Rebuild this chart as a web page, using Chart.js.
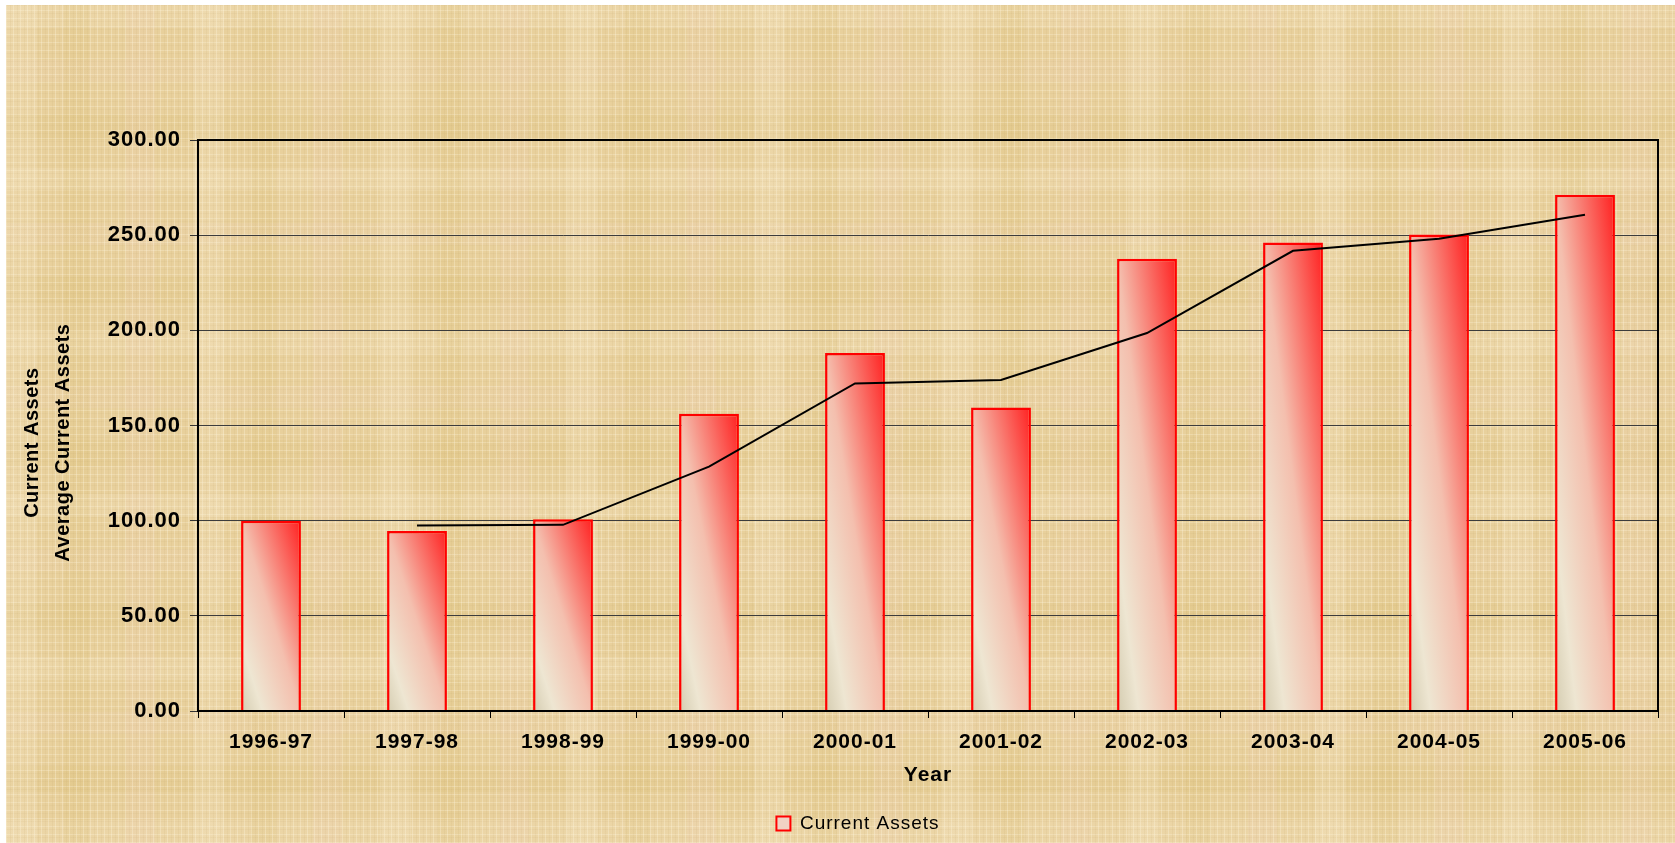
<!DOCTYPE html>
<html lang="en">
<head>
    <meta charset="UTF-8">
    <title>Current Assets</title>
    <script src="https://cdn.jsdelivr.net/npm/chart.js@4.4.0/dist/chart.umd.min.js"></script>
    <style>
        html, body { margin: 0; padding: 0; background: #fff; overflow: hidden; }
        /* woven parchment backdrop */
        #paper {
            position: absolute; left: 6px; top: 5px; right: 0; bottom: 0;
            background-color: #e8d09c;
            background-image:
                repeating-linear-gradient(90deg, rgba(255,246,222,.32) 0 1px, transparent 1px 4px, rgba(190,160,100,.10) 4px 5px, transparent 5px 7px),
                repeating-linear-gradient(0deg, rgba(255,246,222,.28) 0 1px, transparent 1px 5px, rgba(190,160,100,.09) 5px 6px, transparent 6px 8px),
                repeating-linear-gradient(90deg, rgba(248,234,205,.22) 0 31px, transparent 31px 58px, rgba(214,186,104,.13) 58px 83px, transparent 83px 120px, rgba(240,208,190,.16) 120px 149px, transparent 149px 187px),
                repeating-linear-gradient(0deg, rgba(248,234,205,.2) 0 23px, transparent 23px 51px, rgba(210,182,100,.12) 51px 77px, transparent 77px 109px, rgba(240,212,192,.15) 109px 131px, transparent 131px 163px);
        }
        #wrap { position: absolute; left: 0; top: 0; width: 1675px; height: 843px; }
    </style>
</head>
<body>
    <div id="paper"></div>
    <div id="wrap"><canvas id="chart"></canvas></div>

    <script>
        const years = ['1996-97', '1997-98', '1998-99', '1999-00', '2000-01', '2001-02', '2002-03', '2003-04', '2004-05', '2005-06'];
        const currentAssets = [100.0, 94.6, 100.7, 156.2, 188.1, 159.5, 237.6, 246.1, 250.3, 271.3];
        const averageAssets = [null, 97.4, 97.8, 128.4, 172.1, 173.9, 198.6, 241.8, 248.1, 260.7];
        const yTicks = [0, 50, 100, 150, 200, 250, 300];
        const yTitle = ['Current Assets', 'Average Current Assets'];

        const BAR_FRACTION = 0.41;
        const FONT = '"Liberation Sans", Arial, sans-serif';

        Chart.defaults.font.family = FONT;
        Chart.defaults.color = '#000';

        // diagonal cream -> red fill, one gradient per bar
        function barFill(context) {
            const chart = context.chart;
            const area = chart.chartArea;
            if (!area || context.type !== 'data') return '#f2cfc0';
            const x = chart.scales.x, y = chart.scales.y;
            const w = (area.width / years.length) * BAR_FRACTION;
            const left = x.getPixelForValue(context.dataIndex) - w / 2;
            const top = y.getPixelForValue(context.raw);
            const bottom = y.getPixelForValue(0);
            const h = Math.max(bottom - top, 1);
            const k = 2 * w * h / (w * w + h * h);
            const g = chart.ctx.createLinearGradient(left, bottom, left + h * k, bottom - w * k);
            g.addColorStop(0, '#d4ccb0');
            g.addColorStop(0.18, '#eee6d2');
            g.addColorStop(0.5, '#f4bfae');
            g.addColorStop(1, '#ff2020');
            return g;
        }

        const textSpacing = {
            id: 'textSpacing',
            beforeDraw(chart) { chart.ctx.letterSpacing = '1px'; }
        };

        // nudge the legend a little right of the canvas centre
        const legendShift = {
            id: 'legendShift',
            afterLayout(chart) {
                if (!chart.legend) return;
                chart.legend.left += 22;
                chart.legend.right += 22;
            }
        };

        // plot frame plus the two-line value-axis caption
        const plotFrame = {
            id: 'plotFrame',
            afterDatasetsDraw(chart) {
                const { ctx, chartArea: a } = chart;
                ctx.save();
                ctx.strokeStyle = '#000';
                ctx.lineWidth = 2;
                ctx.strokeRect(a.left, a.top, a.right - a.left, a.bottom - a.top);
                ctx.restore();
            },
            afterDraw(chart) {
                const { ctx, chartArea: a } = chart;
                const cy = a.top + (a.bottom - a.top) * 0.53;
                ctx.save();
                ctx.letterSpacing = '0.5px';
                ctx.font = 'bold 20px ' + FONT;
                ctx.fillStyle = '#000';
                ctx.textAlign = 'center';
                ctx.textBaseline = 'middle';
                yTitle.forEach((line, i) => {
                    ctx.save();
                    ctx.translate(32 + i * 31.5, cy);
                    ctx.rotate(-Math.PI / 2);
                    ctx.fillText(line, 0, 0);
                    ctx.restore();
                });
                ctx.restore();
            }
        };

        new Chart(document.getElementById('chart'), {
            type: 'bar',
            data: {
                labels: years,
                datasets: [
                    {
                        label: 'Current Assets',
                        data: currentAssets,
                        backgroundColor: barFill,
                        borderColor: '#ff0000',
                        borderWidth: 2.5,
                        categoryPercentage: 1,
                        barPercentage: BAR_FRACTION,
                        order: 1
                    },
                    {
                        type: 'line',
                        label: 'Average Current Assets',
                        data: averageAssets,
                        borderColor: '#000',
                        borderWidth: 2,
                        pointRadius: 0,
                        tension: 0,
                        order: 0
                    }
                ]
            },
            options: {
                responsive: true,
                maintainAspectRatio: false,
                animation: false,
                layout: { padding: { top: 140, right: 17, left: 0, bottom: 0 } },
                plugins: {
                    tooltip: { enabled: false },
                    legend: {
                        position: 'bottom',
                        labels: {
                            generateLabels(chart) {
                                return Chart.defaults.plugins.legend.labels.generateLabels(chart)
                                    .filter(item => item.datasetIndex === 0)
                                    .map(item => Object.assign(item, { fillStyle: '#f1d2c4', strokeStyle: '#ff0000', lineWidth: 2 }));
                            },
                            boxWidth: 14,
                            boxHeight: 14,
                            padding: 4,
                            font: { size: 19 },
                            color: '#000'
                        }
                    }
                },
                scales: {
                    x: {
                        offset: true,
                        grid: { offset: true, drawOnChartArea: false, tickLength: 7, color: '#000', tickWidth: 1 },
                        border: { color: '#000', width: 2 },
                        ticks: { font: { size: 21, weight: 'bold' }, padding: 12, maxRotation: 0, autoSkip: false },
                        title: { display: true, text: 'Year', font: { size: 21, weight: 'bold' }, padding: { top: 0, bottom: 22 } },
                        afterFit(scale) {
                            const lg = scale.chart.legend;
                            scale.height = 843 - 711 - (lg && lg.height ? lg.height : 31);
                        }
                    },
                    y: {
                        min: 0,
                        max: 300,
                        afterBuildTicks(scale) { scale.ticks = yTicks.map(v => ({ value: v })); },
                        grid: { color: '#3c3c3c', lineWidth: 1, tickLength: 8, tickColor: '#333' },
                        border: { color: '#000', width: 2 },
                        ticks: { font: { size: 22, weight: 'bold' }, padding: 9, callback: v => Number(v).toFixed(2) },
                        afterFit(scale) { scale.width = 198; }
                    }
                }
            },
            plugins: [textSpacing, legendShift, plotFrame]
        });
    </script>
</body>
</html>
